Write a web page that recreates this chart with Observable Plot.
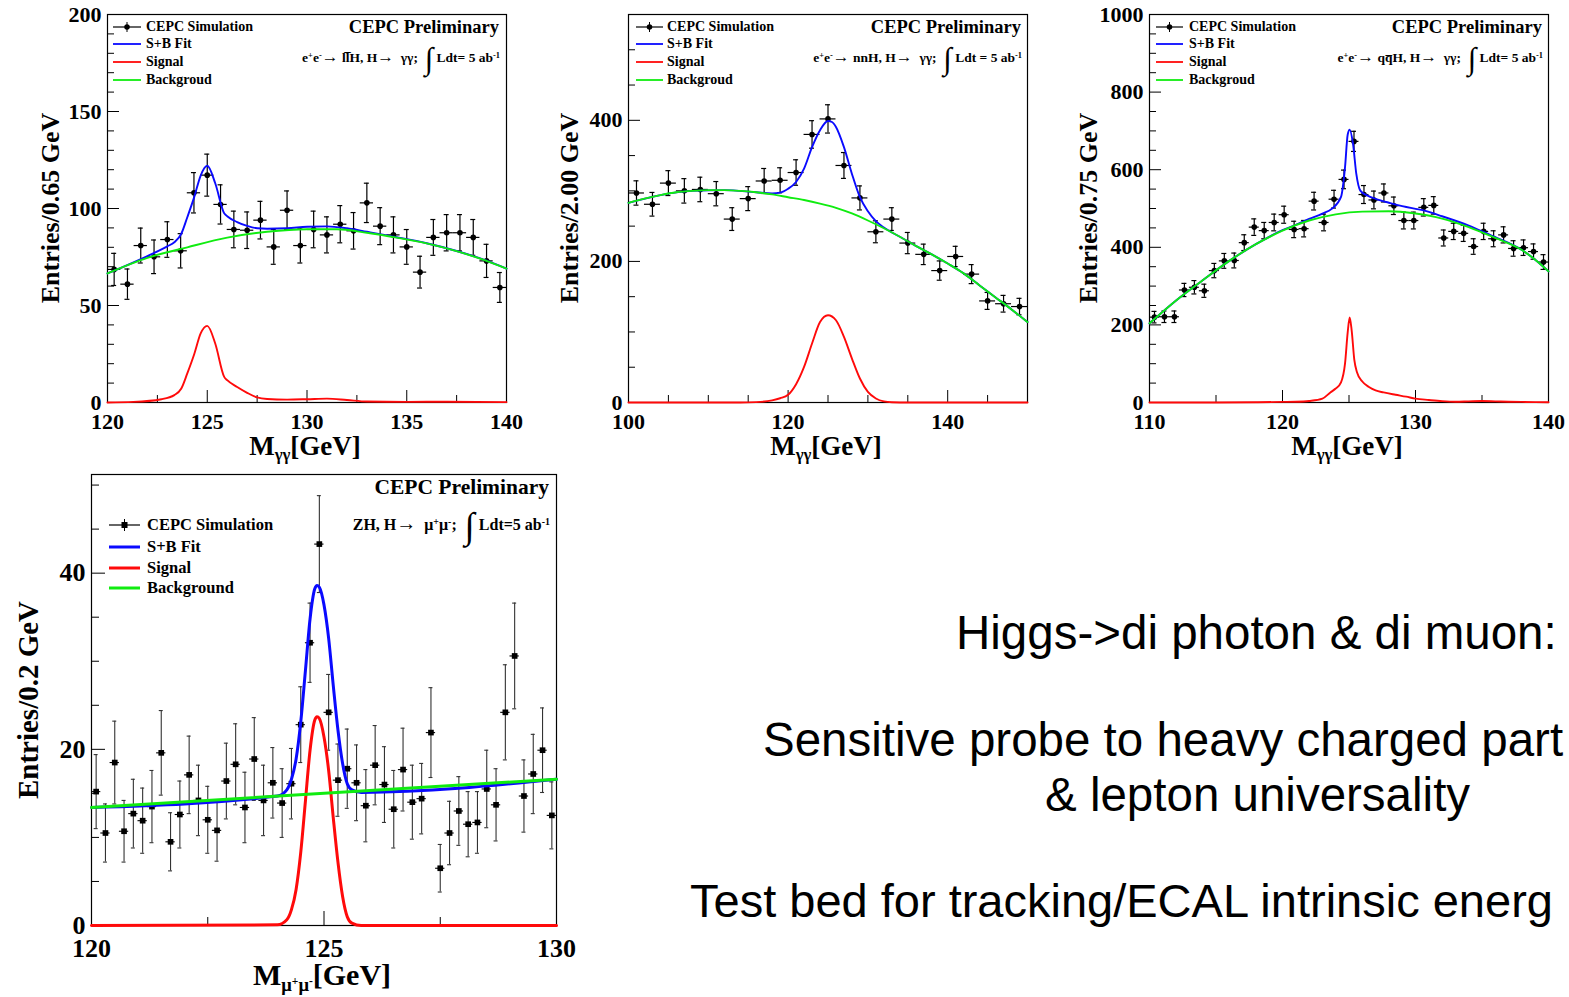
<!DOCTYPE html>
<html>
<head>
<meta charset="utf-8">
<script src="https://cdn.jsdelivr.net/npm/d3@7"></script>
<script src="https://cdn.jsdelivr.net/npm/@observablehq/plot@0.6"></script>
<style>
  html, body { margin: 0; padding: 0; background: #fff; }
  #page { position: relative; width: 1569px; height: 997px; overflow: hidden; background: #fff; }
  .panel { position: absolute; }
  .panel svg { background: transparent !important; max-width: none !important; overflow: visible; }
  .lab { position: absolute; white-space: nowrap; line-height: 1; transform-origin: 0 0; }
  .serif { font-family: 'Liberation Serif', 'Times New Roman', serif; font-weight: bold; color: #000; }
  .sans { font-family: 'Liberation Sans', Arial, sans-serif; font-weight: normal; color: #000; }
  .lab sup { font-size: .62em; vertical-align: .5em; line-height: 0; }
  .sub { font-size: .62em; vertical-align: -.3em; line-height: 0; }
  .int { font-size: 2.3em; font-weight: normal; vertical-align: -.22em; line-height: 0; }
  .arr { font-size: 1.25em; line-height: 0; }
  .key { position: absolute; overflow: visible; }
</style>
</head>
<body>
<div id="page"></div>
<script>
// ---------- e+e- -> llH, H -> γγ : 30 bins of 2/3 GeV starting at 120 GeV
const llhStart = 120, llhBin = 2 / 3;
const llhCounts = [68.6, 61.0, 80.9, 75.1, 84.0, 78.2, 108.1, 117.2, 102.1, 89.2, 88.8, 94.0, 80.2, 99.1, 80.9,
                   89.2, 86.4, 91.9, 88.5, 102.9, 90.9, 86.4, 80.2, 67.2, 85.1, 87.5, 87.5, 85.1, 73.0, 59.3];
const llhBgX = [120, 122, 124, 126, 128, 130, 131.5, 133, 134.5, 136, 137.5, 139, 140];
const llhBgY = [66.5, 74.5, 80, 85, 88, 89.3, 89.3, 87.5, 85, 82, 78, 73, 69];
const llhSbX = [120, 122, 123, 123.35, 123.7, 124, 124.35, 124.67, 125, 125.4, 125.85, 126, 126.5, 127, 127.5, 128,
                129, 130, 131, 132, 133, 134.5, 136, 137.5, 139, 140];
const llhSbY = [66.5, 75.5, 80.5, 82.6, 87, 95.5, 106, 117, 122, 113, 97.5, 96, 93, 91, 89.8, 89.6,
                89.8, 90.6, 90.8, 89.8, 88, 85.2, 82.1, 78.1, 73.1, 69];
const llhSigX = [120, 121.3, 122.7, 123.35, 123.7, 124, 124.35, 124.67, 125, 125.4, 125.85, 126, 126.5, 127, 127.5,
                 128, 129, 130, 131, 132, 133, 135, 137, 140];
const llhSigY = [0, 0.3, 1.7, 3.8, 7.2, 15, 25, 35.6, 39.5, 30.4, 13.2, 11.5, 8, 5, 2.6,
                 1.8, 1.5, 1.7, 2, 1.3, 0.5, 0.3, 0.4, 0.2];

// ---------- e+e- -> nnH, H -> γγ : 25 bins of 2 GeV starting at 100 GeV
const nnhStart = 100, nnhBin = 2;
const nnhCounts = [297, 281, 311, 300, 302, 296, 260, 289, 314, 315, 326, 380, 402, 336, 290, 242, 260, 226, 210,
                   187, 207, 182, 144, 140, 136];
const nnhBgX = [100, 102, 104, 106, 108, 110, 112, 114, 116, 118, 120, 122, 124, 126, 128, 130, 132, 134, 136, 138,
                140, 142, 144, 146, 148, 150];
const nnhBgY = [283, 289, 294, 298, 300, 301, 301, 300, 298, 295, 291, 287, 282, 276, 268, 258, 247, 235, 222, 210,
                197, 183, 166, 149, 132, 114];
const nnhSbX = [100, 104, 108, 112, 116, 118, 119, 120, 121, 122, 123, 124, 125, 125.5, 126, 127, 128, 129, 130, 131,
                132, 133, 134, 136, 138, 140, 142, 144, 146, 148, 150];
const nnhSbY = [283, 294, 300, 301, 298, 296.5, 297.5, 303, 312.6, 331.5, 362, 386, 399, 397.6, 390.6, 362, 324, 291,
                271, 257, 248, 241, 235, 222, 210, 197, 183, 166, 149, 132, 114];
const nnhSigX = [100, 114, 116, 118, 119, 120, 121, 122, 123, 124, 125, 126, 127, 128, 129, 130, 131, 132, 133, 135, 150];
const nnhSigY = [0, 0, 0.5, 3, 6, 11, 26, 50.5, 83.6, 114, 123.7, 116.6, 93, 62.3, 34, 15, 5.7, 1.5, 0.3, 0, 0];

// ---------- e+e- -> qqH, H -> γγ : 40 bins of 0.75 GeV starting at 110 GeV
const qqhStart = 110, qqhBin = 0.75;
const qqhCounts = [220, 221, 221, 290, 297, 288, 340, 365, 366, 412, 452, 443, 464, 484, 446, 448, 519, 464, 524, 575,
                   673, 536, 522, 540, 507, 469, 469, 503, 508, 424, 441, 436, 402, 441, 422, 432, 397, 399, 389, 362];
const qqhBgX = [110, 112, 114, 116, 118, 120, 122, 124, 126, 128, 130, 132, 134, 136, 138, 139, 140];
const qqhBgY = [204, 263, 315, 365, 408, 443, 469, 485, 492, 493, 487, 474, 452, 424, 393, 368, 338];
const qqhSbX = [110, 112, 114, 116, 118, 120, 121, 122, 123, 123.7, 124.4, 124.7, 124.9, 125.05, 125.3, 125.55, 125.85,
                126.4, 127, 128.1, 129, 130.6, 132, 134, 135.6, 136, 138, 139, 140];
const qqhSbY = [204, 263, 315, 365, 408, 444, 458, 473, 487, 499, 530, 606, 690, 703, 667, 589, 546,
                533, 525, 514, 506, 495, 480, 456, 432, 426, 393, 368, 338];
const qqhSigX = [110, 115, 118, 120, 121, 122, 123, 123.6, 124, 124.4, 124.7, 124.9, 125.05, 125.2, 125.4, 125.6, 126,
                 126.5, 127, 127.6, 128.5, 129.3, 130, 131, 132, 133, 134, 135, 136, 137, 138, 140];
const qqhSigY = [0, 0, 0.5, 1.5, 2, 4, 10, 26, 36, 52, 100, 180, 219, 186, 110, 78, 54,
                 40, 31, 26, 20, 15, 10, 6.5, 3.5, 2, 3, 4, 3, 2, 1.5, 0.5];

// ---------- ZH, H -> μ+μ- : 50 bins of 0.2 GeV starting at 120 GeV (weighted entries)
const mmStart = 120, mmBin = 0.2;
const mmCounts = [15.2, 10.5, 18.5, 10.7, 12.7, 11.9, 13.5, 19.6, 9.5, 12.6, 17.1, 14.2, 12.0, 10.8, 16.4, 18.3, 13.4,
                  18.9, 14.2, 16.2, 13.9, 16.1, 22.8, 32.1, 43.3, 24.2, 16.5, 17.8, 16.2, 13.6, 18.2, 16.0, 13.2, 17.7,
                  14.0, 14.4, 21.9, 6.5, 10.5, 13.0, 11.5, 11.7, 15.5, 13.7, 24.2, 30.6, 14.7, 17.2, 19.9, 12.5];
const mmErrors = [4.2, 3.3, 4.7, 3.5, 3.9, 3.7, 4.1, 4.8, 3.3, 3.8, 4.4, 4.0, 3.8, 3.5, 4.3, 4.6, 4.0,
                  4.7, 4.0, 4.0, 3.9, 4.0, 4.3, 4.5, 5.5, 4.3, 4.1, 4.5, 4.3, 4.1, 4.5, 4.3, 4.4, 4.7,
                  4.2, 4.0, 5.1, 2.7, 3.6, 3.9, 3.7, 3.5, 4.4, 4.1, 5.4, 6.0, 4.1, 4.5, 4.8, 3.8];
const mmBgX = [120, 130];
const mmBgY = [13.4, 16.6];
const mmSbX = [120, 124, 124.2, 124.3, 124.4, 124.5, 124.6, 124.7, 124.8, 124.85, 124.9, 125.0, 125.1, 125.2, 125.3,
               125.4, 125.5, 125.6, 125.8, 130];
const mmSbY = [13.4, 14.7, 15.4, 16.6, 18.9, 23.1, 28.9, 34.8, 38.2, 38.6, 38.4, 36.4, 32.6, 27.2, 22.2,
               18.4, 16.1, 15.4, 15.1, 16.6];
const mmSigX = [120, 124, 124.2, 124.3, 124.4, 124.5, 124.6, 124.7, 124.8, 124.85, 124.9, 125.0, 125.1, 125.2, 125.3,
                125.4, 125.5, 125.6, 125.8, 130];
const mmSigY = [0, 0.08, 0.65, 1.8, 4.1, 8.3, 14.1, 19.9, 23.3, 23.7, 23.5, 21.4, 17.6, 12.2, 7.2,
                3.3, 1.0, 0.27, 0, 0];

// ---------- axis ticks
const llhXMajor = [120, 125, 130, 135, 140], llhXMinor = [122.5, 127.5, 132.5, 137.5];
const llhYMajor = [0, 50, 100, 150, 200],   llhYMinor = d3.range(10, 200, 10).filter(v => v % 50);
const nnhXMajor = [100, 120, 140], nnhXMinor = [105, 110, 115, 125, 130, 135, 145];
const nnhYMajor = [0, 200, 400],   nnhYMinor = [50, 100, 150, 250, 300, 350, 450, 500];
const qqhXMajor = [110, 120, 130, 140], qqhXMinor = [115, 125, 135];
const qqhYMajor = [0, 200, 400, 600, 800, 1000], qqhYMinor = d3.range(50, 1000, 50).filter(v => v % 200);
const mmXMajor = [120, 125, 130], mmXMinor = [122.5, 127.5];
const mmYMajor = [0, 20, 40],     mmYMinor = [5, 10, 15, 25, 30, 35, 45, 50];

const BLUE = "#0a0aff", RED = "#ff0a0a", GREEN = "#10ec10";
const SERIF = "'Liberation Serif', 'Times New Roman', serif";
const page = document.getElementById("page");

function series(xs, ys) { return xs.map((x, i) => ({x, y: ys[i]})); }

function drawPanel(p) {
  const fw = p.W - p.ml - p.mr, fh = p.H - p.mt - p.mb;
  const kx = fw / (p.xDomain[1] - p.xDomain[0]);   // px per GeV
  const ky = fh / (p.yDomain[1] - p.yDomain[0]);   // px per entry
  const x0 = p.xDomain[0], y0 = p.yDomain[0];
  const pts = p.counts.map((n, i) => ({
    x: p.start + (i + 0.5) * p.bin, y: n,
    e: p.errors ? p.errors[i] : Math.sqrt(n)          // Poisson errors unless given
  }));
  const cap = p.cap / kx;
  const curve = (xs, ys, color) => Plot.line(series(xs, ys),
    {x: "x", y: "y", stroke: color, strokeWidth: p.lw, curve: "monotone-x"});
  const ticksX = (vals, len) => Plot.ruleX(vals, {x: d => d, y1: y0, y2: y0 + len / ky, stroke: "#000", strokeWidth: 1});
  const ticksY = (vals, len) => Plot.ruleY(vals, {y: d => d, x1: x0, x2: x0 + len / kx, stroke: "#000", strokeWidth: 1});

  const svg = Plot.plot({
    width: p.W, height: p.H,
    marginLeft: p.ml, marginRight: p.mr, marginTop: p.mt, marginBottom: p.mb,
    x: {domain: p.xDomain},
    y: {domain: p.yDomain},
    style: {fontFamily: SERIF, fontSize: p.tickFont + "px", fontWeight: "bold", color: "#000", background: "transparent"},
    marks: [
      Plot.frame({stroke: "#000", strokeWidth: 1.2}),
      ticksX(p.xMajor, p.major), ticksX(p.xMinor, p.minor),
      ticksY(p.yMajor, p.major), ticksY(p.yMinor, p.minor),
      Plot.axisX(p.xMajor, {tickSize: 0, tickPadding: p.xPad, tickFormat: d => String(d), label: null}),
      Plot.axisY(p.yMajor, {tickSize: 0, tickPadding: p.yPad, tickFormat: d => String(d), label: null}),
      // data points with bin-width and statistical error bars
      Plot.ruleY(pts, {y: "y", x1: d => d.x - p.bin / 2, x2: d => d.x + p.bin / 2, stroke: "#000", strokeWidth: p.ew}),
      Plot.ruleX(pts, {x: "x", y1: d => d.y - d.e, y2: d => d.y + d.e, stroke: p.errColor, strokeWidth: p.ew}),
      Plot.ruleY(pts, {y: d => d.y + d.e, x1: d => d.x - cap, x2: d => d.x + cap, stroke: p.errColor, strokeWidth: p.ew}),
      Plot.ruleY(pts, {y: d => d.y - d.e, x1: d => d.x - cap, x2: d => d.x + cap, stroke: p.errColor, strokeWidth: p.ew}),
      Plot.dot(pts, {x: "x", y: "y", r: p.r, fill: "#000", stroke: "none", symbol: p.symbol}),
      // fit components
      curve(p.sbX, p.sbY, BLUE),
      curve(p.sigX, p.sigY, RED),
      curve(p.bgX, p.bgY, GREEN)
    ]
  });
  const div = document.createElement("div");
  div.className = "panel";
  div.style.left = p.left + "px";
  div.style.top = p.top + "px";
  div.style.width = p.W + "px";
  div.appendChild(svg);
  page.appendChild(div);
}

function put(html, x, y, size, opt = {}) {
  const d = document.createElement("div");
  d.className = "lab " + (opt.cls || "serif");
  d.innerHTML = html;
  d.style.left = x + "px";
  d.style.top = y + "px";
  d.style.fontSize = size + "px";
  const tx = opt.anchor === "middle" ? "-50%" : opt.anchor === "end" ? "-100%" : "0";
  d.style.transform = (opt.rotate ? `rotate(${opt.rotate}deg) ` : "") + `translate(${tx},-50%)`;
  page.appendChild(d);
}

// legend key: a short line, optionally with a data-point marker on it
function key(x1, x2, y, color, lw, marker) {
  const ns = "http://www.w3.org/2000/svg";
  const s = document.createElementNS(ns, "svg");
  s.setAttribute("class", "key");
  s.setAttribute("width", x2 - x1 + 10);
  s.setAttribute("height", 20);
  s.style.left = (x1 - 5) + "px";
  s.style.top = (y - 10) + "px";
  const mk = (tag, attrs) => { const e = document.createElementNS(ns, tag); for (const k in attrs) e.setAttribute(k, attrs[k]); s.appendChild(e); };
  mk("line", {x1: 5, x2: x2 - x1 + 5, y1: 10, y2: 10, stroke: color, "stroke-width": lw});
  if (marker) {
    const cx = 5 + (x2 - x1) / 2;
    mk("line", {x1: cx, x2: cx, y1: 10 - marker.bar, y2: 10 + marker.bar, stroke: "#000", "stroke-width": 1});
    if (marker.square) mk("rect", {x: cx - marker.size / 2, y: 10 - marker.size / 2, width: marker.size, height: marker.size, fill: "#000"});
    else mk("circle", {cx, cy: 10, r: marker.size / 2, fill: "#000"});
  }
  page.appendChild(s);
}

const photonBase = {H: 465, mt: 14, mb: 63, tickFont: 22, xPad: 11, yPad: 6, major: 12, minor: 7,
                    lw: 1.9, ew: 1.2, cap: 2.5, r: 2.8, symbol: "circle", errColor: "#000"};

drawPanel({...photonBase, left: 0, top: 0, W: 530, ml: 107, mr: 24,
  xDomain: [120, 140], yDomain: [0, 200], start: llhStart, bin: llhBin, counts: llhCounts,
  bgX: llhBgX, bgY: llhBgY, sbX: llhSbX, sbY: llhSbY, sigX: llhSigX, sigY: llhSigY,
  xMajor: llhXMajor, xMinor: llhXMinor, yMajor: llhYMajor, yMinor: llhYMinor});

drawPanel({...photonBase, left: 540, top: 0, W: 520, ml: 88, mr: 33,
  xDomain: [100, 150], yDomain: [0, 550], start: nnhStart, bin: nnhBin, counts: nnhCounts,
  bgX: nnhBgX, bgY: nnhBgY, sbX: nnhSbX, sbY: nnhSbY, sigX: nnhSigX, sigY: nnhSigY,
  xMajor: nnhXMajor, xMinor: nnhXMinor, yMajor: nnhYMajor, yMinor: nnhYMinor});

drawPanel({...photonBase, left: 1065, top: 0, W: 504, ml: 84, mr: 21,
  xDomain: [110, 140], yDomain: [0, 1000], start: qqhStart, bin: qqhBin, counts: qqhCounts,
  bgX: qqhBgX, bgY: qqhBgY, sbX: qqhSbX, sbY: qqhSbY, sigX: qqhSigX, sigY: qqhSigY,
  xMajor: qqhXMajor, xMinor: qqhXMinor, yMajor: qqhYMajor, yMinor: qqhYMinor});

drawPanel({left: 0, top: 465, W: 600, H: 532, ml: 91, mr: 44, mt: 9, mb: 72,
  tickFont: 26, xPad: 13, yPad: 6, major: 14, minor: 8, lw: 3, ew: 1.1, cap: 2, r: 3.2,
  symbol: "square", errColor: "#333",
  xDomain: [120, 130], yDomain: [0, 51.2], start: mmStart, bin: mmBin, counts: mmCounts, errors: mmErrors,
  bgX: mmBgX, bgY: mmBgY, sbX: mmSbX, sbY: mmSbY, sigX: mmSigX, sigY: mmSigY,
  xMajor: mmXMajor, xMinor: mmXMinor, yMajor: mmYMajor, yMinor: mmYMinor});

// ---------- panel annotations (titles, legends, axis names)
const ARR = "<span class='arr'>&rarr;</span>";
const photonPanels = [
  {keyX: [113, 141], textX: 146, right: 499, yTitle: "Entries/0.65 GeV", yTitleX: 51, xTitleX: 305,
   proc: `e<sup>+</sup>e<sup>-</sup>${ARR} ll&#773;H, H${ARR}&nbsp; &gamma;&gamma;;&nbsp; <span class='int'>&int;</span> Ldt= 5 ab<sup>-1</sup>`},
  {keyX: [636, 663], textX: 667, right: 1021, yTitle: "Entries/2.00 GeV", yTitleX: 570, xTitleX: 826,
   proc: `e<sup>+</sup>e<sup>-</sup>${ARR} nnH, H${ARR}&nbsp; &gamma;&gamma;;&nbsp; <span class='int'>&int;</span> Ldt = 5 ab<sup>-1</sup>`},
  {keyX: [1156, 1183], textX: 1189, right: 1542, yTitle: "Entries/0.75 GeV", yTitleX: 1089, xTitleX: 1347,
   proc: `e<sup>+</sup>e<sup>-</sup>${ARR} qq&#773;H, H${ARR}&nbsp; &gamma;&gamma;;&nbsp; <span class='int'>&int;</span> Ldt= 5 ab<sup>-1</sup>`}
];
const legendRows = [26.7, 44.3, 62.3, 80];
const legendNames = ["CEPC Simulation", "S+B Fit", "Signal", "Backgroud"];
for (const p of photonPanels) {
  put("CEPC Preliminary", p.right, 26.7, 18.5, {anchor: "end"});
  put(p.proc, p.right + 1, 57.5, 13.5, {anchor: "end"});
  key(p.keyX[0], p.keyX[1], legendRows[0], "#000", 1.2, {bar: 5, size: 5.5});
  key(p.keyX[0], p.keyX[1], legendRows[1], BLUE, 1.8);
  key(p.keyX[0], p.keyX[1], legendRows[2], RED, 1.8);
  key(p.keyX[0], p.keyX[1], legendRows[3], GREEN, 1.8);
  legendNames.forEach((t, i) => put(t, p.textX, legendRows[i], 14));
  put(p.yTitle, p.yTitleX, 208, 26, {rotate: -90, anchor: "middle"});
  put("M<span class='sub'>&gamma;&gamma;</span>[GeV]", p.xTitleX, 446, 27, {anchor: "middle"});
}

// di-muon panel
put("CEPC Preliminary", 549, 488, 21.5, {anchor: "end"});
put(`ZH, H${ARR}&nbsp; &mu;<sup>+</sup>&mu;<sup>-</sup>;&nbsp; <span class='int'>&int;</span> Ldt=5 ab<sup>-1</sup>`, 550, 525, 16, {anchor: "end"});
const muRows = [525, 547, 568, 588];
const muNames = ["CEPC Simulation", "S+B Fit", "Signal", "Background"];
key(109, 140, muRows[0], "#000", 1.2, {bar: 6, size: 6, square: true});
key(109, 140, muRows[1], BLUE, 3);
key(109, 140, muRows[2], RED, 3);
key(109, 140, muRows[3], GREEN, 3);
muNames.forEach((t, i) => put(t, 147, muRows[i], 16.5));
put("Entries/0.2 GeV", 28, 700, 29, {rotate: -90, anchor: "middle"});
put("M<span class='sub'>&mu;<sup>+</sup>&mu;<sup>-</sup></span>[GeV]", 322, 975, 30, {anchor: "middle"});

// ---------- slide text (runs up to the right edge of the slide)
put("Higgs-&gt;di photon &amp; di muon:", 956, 633, 47.5, {cls: "sans"});
put("Sensitive probe to heavy charged part", 763, 740, 47.5, {cls: "sans"});
put("&amp; lepton universality", 1045, 795, 47.5, {cls: "sans"});
put("Test bed for tracking/ECAL intrinsic energ", 690, 900, 47, {cls: "sans"});
</script>
</body>
</html>
